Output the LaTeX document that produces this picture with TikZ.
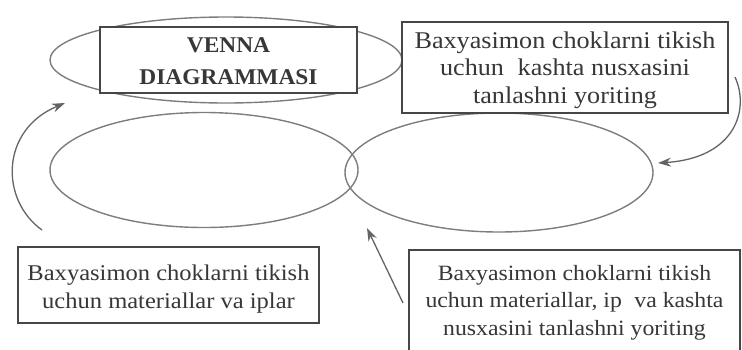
\documentclass[tikz,border=0pt]{standalone}
\usepackage{fontspec}
\setmainfont{Liberation Serif}
\newfontfamily\bodyfont[FakeStretch=1.09]{Liberation Serif}
\newfontfamily\titlefont[FakeStretch=1.04,BoldFeatures={FakeStretch=1.04}]{Liberation Serif}
\usetikzlibrary{shapes.geometric,arrows.meta}
\definecolor{ellcol}{RGB}{125,125,125}
\definecolor{boxcol}{RGB}{70,70,70}
\definecolor{txtcol}{RGB}{55,55,55}
\definecolor{arrcol}{RGB}{100,100,100}
\tikzset{
  venn/.style={ellipse, draw=ellcol, line width=1.4pt, inner sep=0pt},
  framebox/.style={rectangle, draw=boxcol, line width=1.6pt, fill=white, inner sep=0pt},
  label/.style={inner sep=0pt, align=center, text=txtcol},
  titletext/.style={label, font=\titlefont\bfseries\fontsize{22.5}{32}\selectfont},
  conn/.style={draw=arrcol, line width=1.3pt, -{Stealth[length=13pt,width=9pt]}}
}
\begin{document}
\begin{tikzpicture}[x=1pt,y=-1pt]
\useasboundingbox (0,0) rectangle (742,349);
% ellipses
\node[venn, minimum width=352, minimum height=86] (top) at (226,60) {};
\node[venn, minimum width=308, minimum height=115] (left) at (204,170) {};
\node[venn, minimum width=308, minimum height=119] (right) at (499,172.5) {};
% frames
\node[framebox, minimum width=257, minimum height=66] (title) at (228.5,60) {};
\node[framebox, minimum width=326, minimum height=91] (tr) at (565,67.5) {};
\node[framebox, minimum width=301, minimum height=76] (bl) at (168.5,285) {};
\node[framebox, minimum width=331, minimum height=110] (br) at (574.5,305) {};
% texts
\node[titletext] (titletxt) at (228.5,61.5) {VENNA\\DIAGRAMMASI};
\node[label, font=\bodyfont\fontsize{24}{27.5}\selectfont] (trtxt) at (565,69.8)
  {Baxyasimon choklarni tikish\\uchun\hspace{0.3em} kashta nusxasini\\tanlashni yoriting};
\node[label, font=\bodyfont\fontsize{22.5}{28}\selectfont] (bltxt) at (168.5,288.7)
  {Baxyasimon choklarni tikish\\uchun materiallar va iplar};
\node[label, font=\bodyfont\fontsize{21.8}{27.5}\selectfont] (brtxt) at (574.5,302.4)
  {Baxyasimon choklarni tikish\\uchun materiallar, ip\hspace{0.3em} va kashta\\nusxasini tanlashni yoriting};
% connectors
\coordinate (a1s) at (42,230);
\coordinate (a1e) at (65,103);
\coordinate (a2s) at (735,77);
\coordinate (a2e) at (658,163);
\coordinate (a3s) at (403,303);
\coordinate (a3e) at (367,228);
\draw[conn] (a1s) .. controls (0,200) and (0,130) .. (a1e);
\draw[conn] (a2s) .. controls (750,110) and (735,158) .. (a2e);
\draw[conn] (a3s) -- (a3e);
\end{tikzpicture}
\end{document}
